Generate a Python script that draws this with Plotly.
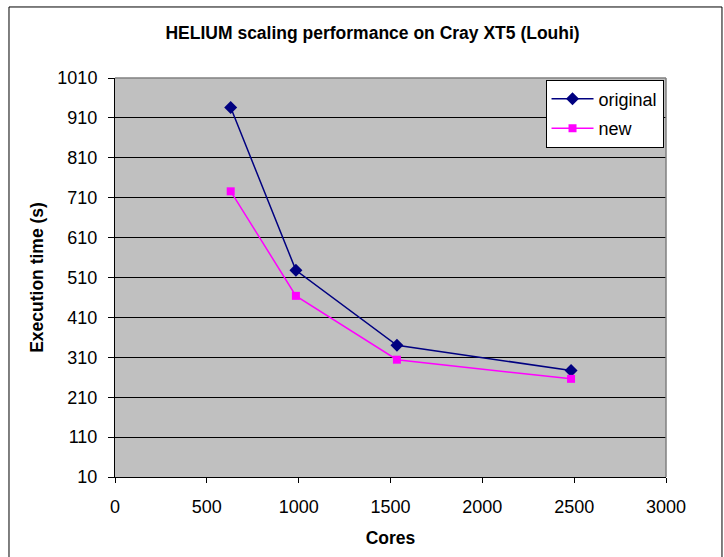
import plotly.graph_objects as go

# Core counts and wall-clock execution times (seconds)
cores = [630, 985, 1535, 2483]
time_original = [936, 528, 340, 277]
time_new = [726, 464, 304, 256]

x_ticks = [0, 500, 1000, 1500, 2000, 2500, 3000]
y_ticks = [10, 110, 210, 310, 410, 510, 610, 710, 810, 910, 1010]

FONT = "Arial, Liberation Sans, sans-serif"

fig = go.Figure()
fig.add_trace(go.Scatter(
    x=cores, y=time_original, name="original", mode="lines+markers",
    legendgroup="a",
    line=dict(color="#000080", width=1.5),
    marker=dict(symbol="diamond", size=10, color="#000080"),
))
fig.add_trace(go.Scatter(
    x=cores, y=time_new, name="new", mode="lines+markers",
    legendgroup="b",
    line=dict(color="#FF00FF", width=1.5),
    marker=dict(symbol="square", size=8, color="#FF00FF"),
))

fig.update_layout(
    width=724, height=557,
    margin=dict(l=115, r=58, t=78, b=78),
    paper_bgcolor="white",
    plot_bgcolor="#C0C0C0",
    font=dict(family=FONT, size=18, color="black"),
    title=dict(
        text="<b>HELIUM scaling performance on Cray XT5 (Louhi)</b>",
        x=0.5146, xanchor="center", y=0.941, yanchor="middle",
        font=dict(family=FONT, size=17.5, color="black"),
    ),
    showlegend=True,
    legend=dict(
        x=0.9955, xanchor="right", y=0.996, yanchor="top",
        bgcolor="white", bordercolor="black", borderwidth=1,
        traceorder="grouped", tracegroupgap=3, itemwidth=42,
        font=dict(family=FONT, size=18, color="black"),
    ),
    xaxis=dict(
        range=[0, 3000], tickvals=x_ticks, ticktext=[str(v) for v in x_ticks],
        showgrid=False, zeroline=False,
        showline=True, linecolor="black", linewidth=1,
        ticks="outside", ticklen=5, tickcolor="black",
        ticklabelstandoff=8,
        title=dict(text="<b>Cores</b>", standoff=16,
                   font=dict(family=FONT, size=17.5)),
    ),
    yaxis=dict(
        range=[10, 1010], tickvals=y_ticks, ticktext=[str(v) for v in y_ticks],
        showgrid=True, gridcolor="black", gridwidth=1, zeroline=False,
        showline=True, linecolor="black", linewidth=1,
        ticks="outside", ticklen=6, tickcolor="black",
        ticklabelstandoff=7,
        title=dict(text="<b>Execution time (s)</b>", standoff=9,
                   font=dict(family=FONT, size=17.5)),
    ),
    shapes=[
        # plot-area frame on the top and right sides
        dict(type="line", xref="paper", yref="paper", x0=0, x1=1, y0=1, y1=1,
             line=dict(color="#808080", width=1.5)),
        dict(type="line", xref="paper", yref="paper", x0=1, x1=1, y0=0, y1=1,
             line=dict(color="#808080", width=1.5)),
        # chart-area border
        dict(type="rect", xref="paper", yref="paper",
             x0=-0.1924, x1=1.1016, y0=-0.213, y1=1.178,
             line=dict(color="black", width=1), fillcolor="rgba(0,0,0,0)"),
    ],
)

fig.write_html("out.html")
